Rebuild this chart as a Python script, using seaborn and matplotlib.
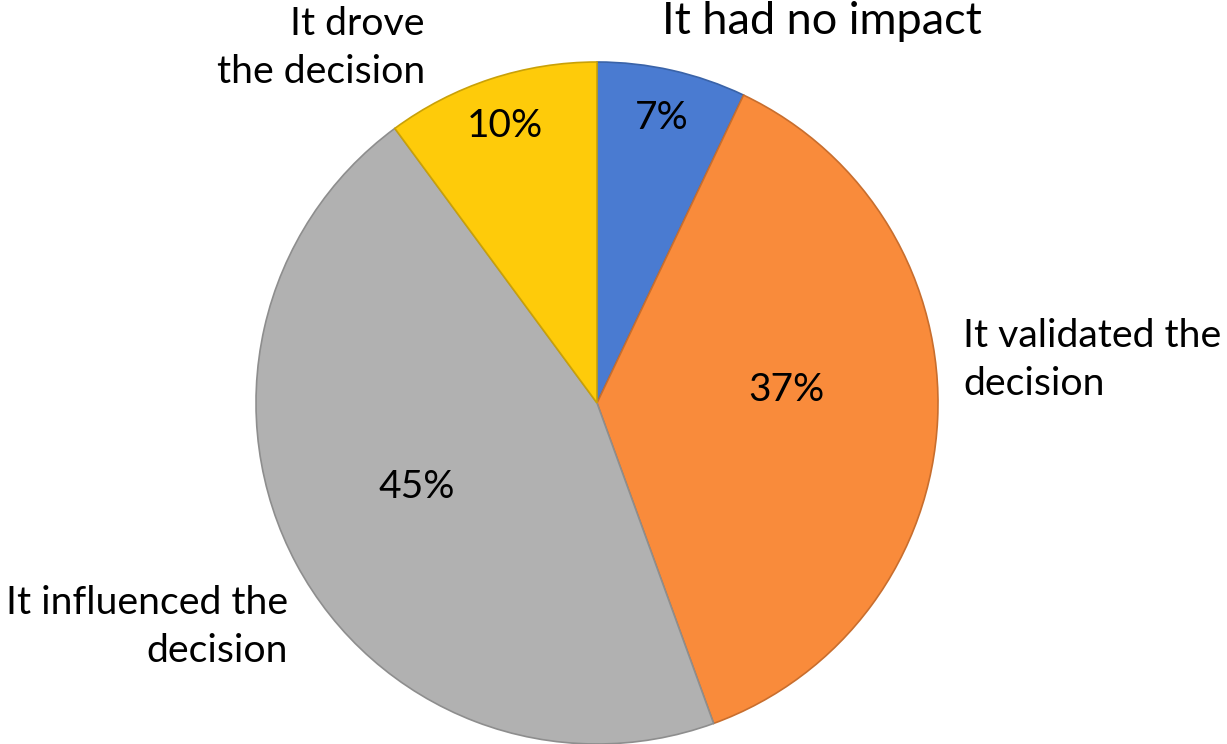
import matplotlib
matplotlib.use("Agg")
import matplotlib.pyplot as plt
import seaborn as sns

sns.set_theme(style="white")
plt.rcParams['font.family'] = ['Lato', 'DejaVu Sans']

categories = ["It had no impact", "It validated the\ndecision", "It influenced the\ndecision", "It drove\nthe decision"]
values = [7, 37, 45, 10]
pct_labels = ["7%", "37%", "45%", "10%"]
colors = ["#4A7BD1", "#F98B3B", "#B1B1B1", "#FECB0A"]
edges = ["#3A63A8", "#C86E2E", "#8E8E8E", "#C9A108"]

W, H = 1227, 744
fig = plt.figure(figsize=(W / 100, H / 100), dpi=100)
ax = fig.add_axes([0, 0, 1, 1])

def py(y):
    return H - y

wedges, _ = ax.pie(values, colors=colors, startangle=90, counterclock=False,
                   center=(597, py(403)), radius=341, frame=True,
                   wedgeprops=dict(linewidth=1.2))
for w, e in zip(wedges, edges):
    w.set_edgecolor(e)
ax.set_xlim(0, W)
ax.set_ylim(0, H)
ax.set_aspect("equal")
ax.axis("off")

pct_pos = [(662, 118), (786, 390), (417, 487), (505, 126)]
for (x, y), t in zip(pct_pos, pct_labels):
    ax.text(x, py(y), t, ha="center", va="center", fontsize=28, color="black")

fs = 28.3
ls = 1.38
ax.text(822, py(22), categories[0], ha="center", va="center", fontsize=32.5, color="black")
ax.text(963, py(360), categories[1], ha="left", va="center", fontsize=fs, color="black", linespacing=ls)
ax.text(288, py(627), categories[2], ha="right", va="center", fontsize=fs, color="black", linespacing=ls)
ax.text(425, py(48), categories[3], ha="right", va="center", fontsize=fs, color="black", linespacing=ls)

fig.savefig("out.png", dpi=100)
